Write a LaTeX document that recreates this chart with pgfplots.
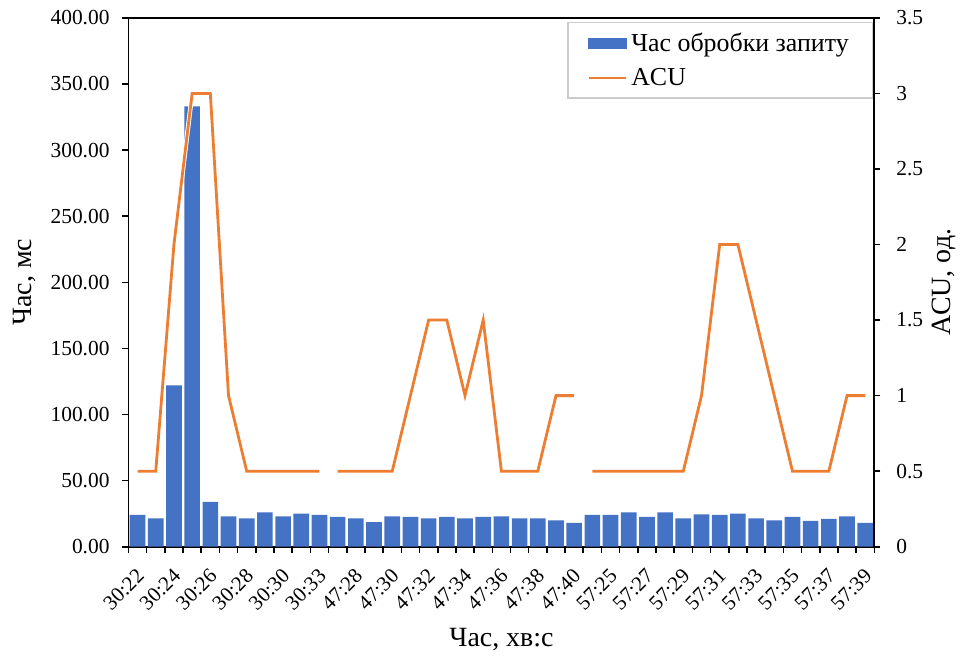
\documentclass[border=0pt]{standalone}
\usepackage{fontspec}
\setmainfont{Liberation Serif}
\usepackage{pgfplots}
\pgfplotsset{compat=1.18}
\definecolor{barblue}{HTML}{4472C4}
\definecolor{acuorange}{HTML}{ED7D31}

\pgfplotstableread{
x y
0 24.0
1 21.5
2 122
3 333
4 34
5 23
6 21.5
7 26
8 23
9 25
10 24
11 22.5
12 21.5
13 18.5
14 23
15 22.5
16 21.5
17 22.5
18 21.5
19 22.5
20 23
21 21.5
22 21.5
23 20
24 18
25 24
26 24
27 26
28 22.5
29 26
30 21.5
31 24.5
32 24
33 25
34 21.5
35 20
36 22.5
37 19.5
38 21
39 23
40 18
}\bartable

\pgfplotstableread{
x y
0 0.5
1 0.5
2 2
3 3
4 3
5 1
6 0.5
7 0.5
8 0.5
9 0.5
10 0.5
10.5 nan
11 0.5
12 0.5
13 0.5
14 0.5
15 1
16 1.5
17 1.5
18 1
19 1.5
20 0.5
21 0.5
22 0.5
23 1
24 1
24.5 nan
25 0.5
26 0.5
27 0.5
28 0.5
29 0.5
30 0.5
31 1
32 2
33 2
34 1.5
35 1
36 0.5
37 0.5
38 0.5
39 1
40 1
}\acutable

\begin{document}
\begin{tikzpicture}
\pgfplotsset{
  common/.style={
    at={(0pt,0pt)}, anchor=south west,
    scale only axis, width=374.5pt, height=265.5pt,
    xmin=-0.5, xmax=40.5,
    tick align=outside,
    major tick length=3pt,
    axis line style={line width=0.9pt, black},
    every tick/.style={black, line width=0.8pt},
    ticklabel style={font=\fontsize{10.75}{12}\selectfont},
    /pgf/number format/assume math mode=true,
  }
}
\begin{axis}[
  common,
  ymin=0, ymax=400,
  ytick={0,50,...,400},
  yticklabel style={xshift=-3pt, /pgf/number format/fixed, /pgf/number format/fixed zerofill, /pgf/number format/precision=2},
  ytick pos=left,
  xtick={-0.5,0.5,...,40.5},
  xticklabels={},
  xtick pos=bottom,
  extra x ticks={0,2,...,40},
  extra x tick labels={30:22,30:24,30:26,30:28,30:30,30:33,47:28,47:30,47:32,47:34,47:36,47:38,47:40,57:25,57:27,57:29,57:31,57:33,57:35,57:37,57:39},
  extra x tick style={major tick length=0pt, xticklabel style={rotate=45, anchor=north east, inner sep=1pt, xshift=-7pt, yshift=-5.5pt, font=\fontsize{10.5}{12}\selectfont}},
  ylabel={Час, мс},
  ylabel style={at={(axis description cs:-0.139,0.5)}, anchor=center, font=\fontsize{14}{16}\selectfont},
  xlabel={Час, хв:с},
  xlabel style={at={(axis description cs:0.5,-0.176)}, anchor=center, font=\fontsize{14}{16}\selectfont},
]
\addplot[ybar, bar width=0.86, fill=barblue, draw=none] table[x=x, y=y] {\bartable};
\end{axis}
\begin{axis}[
  common,
  axis x line=none,
  axis y line*=right,
  ymin=0, ymax=3.5,
  ytick={0,0.5,...,3.5},
  yticklabel style={xshift=4.5pt},
  ylabel={ACU, од.},
  ylabel style={at={(axis description cs:1.094,0.5)}, anchor=center, rotate=0, font=\fontsize{14}{16}\selectfont},
  unbounded coords=jump,
  legend style={at={(axis description cs:0.9987,0.9925)}, anchor=north east, draw=black!20, line width=0.8pt,
     font=\fontsize{13}{15}\selectfont, inner xsep=10pt, inner ysep=3pt, row sep=3pt},
  legend cell align=left,
]
\addlegendimage{legend image code/.code={\fill[barblue] (0pt,-2.3pt) rectangle (19pt,2.3pt);}}
\addlegendentry{Час обробки запиту}
\addplot[white, line width=2.3pt, forget plot] table[x=x, y=y] {\acutable};
\addplot[acuorange, line width=1.4pt, legend image code/.code={\draw[acuorange, line width=0.9pt] (0pt,0pt) -- (19pt,0pt);}] table[x=x, y=y] {\acutable};
\addlegendentry{ACU}
\end{axis}
\path (-64.5pt,-56.5pt) rectangle (417pt,274.5pt);
\end{tikzpicture}
\end{document}
